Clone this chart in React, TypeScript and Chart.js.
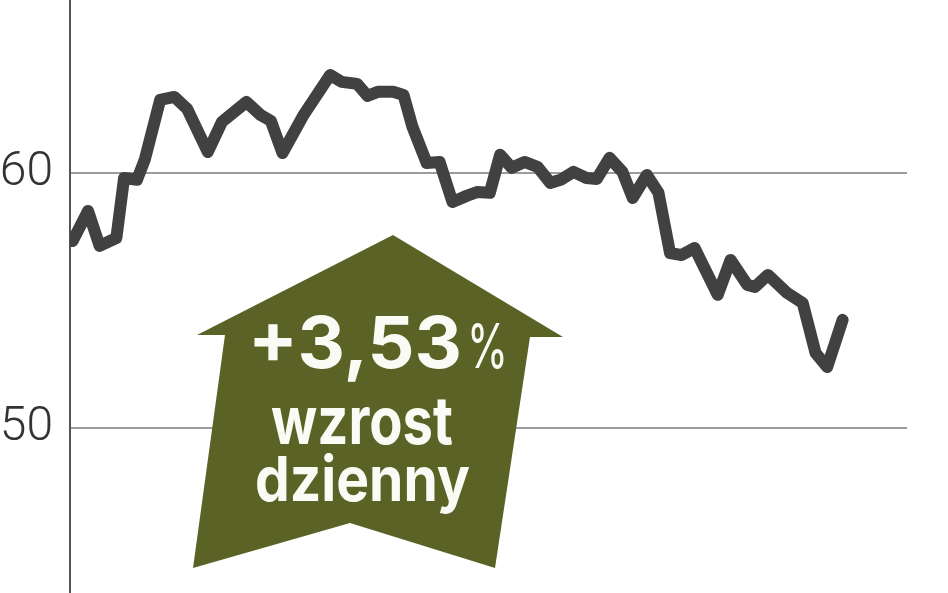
import React, { useEffect, useRef } from "react";
import { Chart, registerables } from "chart.js";

Chart.register(...registerables);

// Session positions (trading-day axis) and closing prices
const SESSIONS = [
  0.2, 1.4, 2.3, 3.6, 4.2, 5.2, 5.8, 7.0, 8.1, 9.1, 10.7, 11.8, 13.7, 14.8, 15.6, 16.5,
  18.1, 20.2, 21.1, 22.3, 23.1, 23.9, 25.1, 25.9, 26.6, 27.7, 28.7, 29.7, 30.8, 31.6,
  32.6, 33.4, 34.3, 35.3, 36.3, 37.3, 38.1, 39.1, 40.1, 40.9, 41.9, 42.9, 43.7, 44.8,
  45.7, 46.6, 47.5, 48.5, 50.3, 51.3, 52.6, 53.2, 54.2, 55.7, 56.9, 57.9, 58.8, 60.0,
];
const PRICES = [
  57.33, 58.51, 57.14, 57.45, 59.8, 59.73, 60.51, 62.86, 62.98, 62.51, 60.82, 62.0, 62.78,
  62.27, 62.04, 60.78, 62.24, 63.84, 63.57, 63.49, 63.02, 63.18, 63.18, 63.06, 61.8, 60.39,
  60.43, 58.86, 59.1, 59.25, 59.22, 60.71, 60.2, 60.43, 60.24, 59.61, 59.73, 60.04, 59.8,
  59.76, 60.59, 60.04, 59.02, 59.92, 59.22, 56.86, 56.78, 57.06, 55.22, 56.59, 55.61, 55.53,
  56.0, 55.29, 54.9, 52.94, 52.39, 54.24,
];
const Y_TICKS = [50, 60];
const Y_MIN = 43.53;
const Y_MAX = 66.78;
const X_MIN = 0;
const X_MAX = 65;

const BADGE_VALUE = "+3,53";
const BADGE_PERCENT = "%";
const BADGE_LINE2 = "wzrost";
const BADGE_LINE3 = "dzienny";

const OLIVE = "#5a6226";

const arrowPlugin = {
  id: "arrowBadge",
  beforeDatasetsDraw(chart: any) {
    const ctx = chart.ctx as CanvasRenderingContext2D;
    ctx.save();
    ctx.fillStyle = OLIVE;
    ctx.beginPath();
    const pts = [
      [393, 235],
      [563, 337],
      [530, 337],
      [495, 568],
      [350, 523],
      [193, 568],
      [225, 335],
      [197, 335],
    ];
    pts.forEach(([x, y], i) => (i === 0 ? ctx.moveTo(x, y) : ctx.lineTo(x, y)));
    ctx.closePath();
    ctx.fill();

    const fit = (text: string, left: number, base: number, font: string, w: number) => {
      ctx.save();
      ctx.font = font;
      ctx.textAlign = "left";
      ctx.textBaseline = "alphabetic";
      const m = ctx.measureText(text).width;
      ctx.translate(left, base);
      ctx.scale(w / m, 1);
      ctx.fillStyle = "#fbfbf5";
      ctx.fillText(text, 0, 0);
      ctx.restore();
    };
    fit(BADGE_VALUE, 248, 368, "700 72px Inter", 214);
    fit(BADGE_PERCENT, 467, 368, "400 62px Inter", 41);
    fit(BADGE_LINE2, 271, 444, "700 66px Inter", 182);
    fit(BADGE_LINE3, 255, 501, "700 62px Inter", 215);
    ctx.restore();
  },
};

export default function App() {
  const ref = useRef<HTMLCanvasElement | null>(null);
  useEffect(() => {
    if (!ref.current) return;
    const chart = new Chart(ref.current, {
      type: "line",
      data: {
        datasets: [
          {
            data: SESSIONS.map((x, i) => ({ x, y: PRICES[i] })),
            borderColor: "#414141",
            borderWidth: 12,
            pointRadius: 0,
            tension: 0,
            borderJoinStyle: "round",
            borderCapStyle: "round",
            fill: false,
          },
        ],
      },
      options: {
        animation: false,
        responsive: false,
        maintainAspectRatio: false,
        layout: { padding: { left: 0, right: 41, top: 0, bottom: 0 } },
        plugins: { legend: { display: false }, tooltip: { enabled: false } },
        scales: {
          x: { type: "linear", display: false, min: X_MIN, max: X_MAX },
          y: {
            type: "linear",
            position: "left",
            min: Y_MIN,
            max: Y_MAX,
            afterFit: (s: any) => {
              s.width = 70;
              s.paddingTop = 0;
              s.paddingBottom = 0;
            },
            afterBuildTicks: (s: any) => {
              s.ticks = Y_TICKS.map((v) => ({ value: v }));
            },
            grid: { color: "#9c9c9c", lineWidth: 2, drawTicks: false },
            border: { display: true, color: "#555555", width: 2 },
            ticks: {
              padding: 17,
              color: "#333333",
              font: { family: "Roboto", size: 48, weight: "300" },
            },
          },
        },
      } as any,
      plugins: [arrowPlugin],
    });
    return () => chart.destroy();
  }, []);
  return (
    <div style={{ position: "absolute", left: 0, top: 0, width: 948, height: 593, background: "#fff" }}>
      <canvas ref={ref} width={948} height={593} />
    </div>
  );
}
